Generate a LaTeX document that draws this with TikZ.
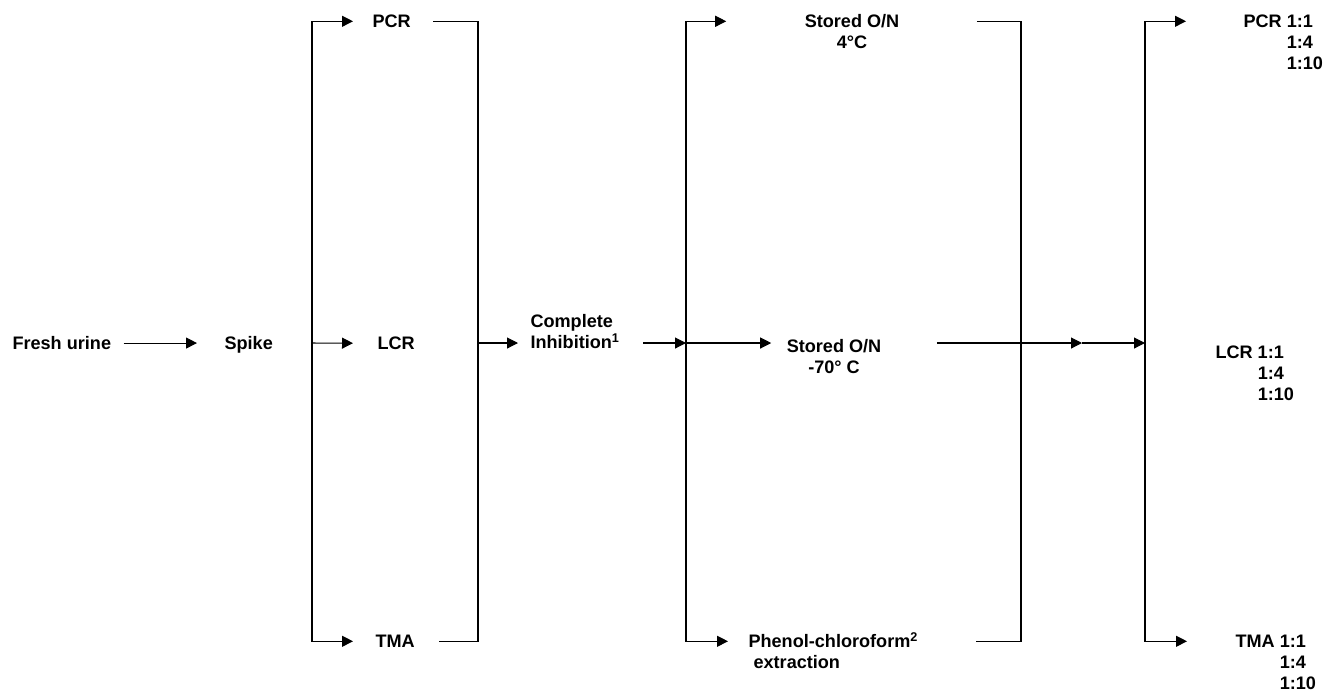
\documentclass[tikz,border=0pt]{standalone}
\usepackage{fontspec}
\setmainfont{Liberation Sans}
\usetikzlibrary{arrows.meta}
\newcommand{\dilutions}[1]{\begin{tabular}[t]{@{}l@{\ }l@{}}#1&1:1\\&1:4\\&1:10\end{tabular}}

\begin{document}
\begin{tikzpicture}[x=0.02cm, y=-0.02cm, line width=0.6pt,
    lbl/.style={inner sep=0pt, font=\fontsize{10.3}{12}\selectfont\bfseries},
    arr/.style={-{Triangle[length=0.22cm, width=0.22cm]}}]
  \useasboundingbox (0,0) rectangle (1344,691);
  % Labels first half
  \node[lbl, anchor=base west] (fresh) at (12,349.5) {Fresh urine};
  \node[lbl, anchor=base west] (spike) at (224,349.5) {Spike};
  \node[lbl, anchor=base west] (pcr) at (372,27.5) {PCR};
  \node[lbl, anchor=base west] (lcr) at (377,349.5) {LCR};
  \node[lbl, anchor=base west] (tma) at (375,647.5) {TMA};
  \node[lbl, anchor=base west, align=left] (inhib) at (530,348.5) {Complete\\Inhibition\textsuperscript{1}};
  % Labels second half
  \node[lbl, anchor=base, align=center] (on4) at (852,48.5) {Stored O/N\\4°C};
  \node[lbl, anchor=base, align=center] (on70) at (834,373.5) {Stored O/N\\-70° C};
  \node[lbl, anchor=base west, align=left] (phenol) at (748,668.5) {Phenol-chloroform\textsuperscript{2}\\\ extraction};
  \node[lbl, anchor=base west] (pcr2) at (1243,27.5) {\dilutions{PCR}};
  \node[lbl, anchor=base west] (lcr2) at (1215,358.5) {\dilutions{LCR}};
  \node[lbl, anchor=base west] (tma2) at (1235,647.5) {\dilutions{TMA\ }};
  % Bus points
  \coordinate (b1) at (312,343);
  \coordinate (j1) at (478,343);
  \coordinate (b2) at (686,343);
  \coordinate (j2) at (1021,343);
  \coordinate (m2) at (1082,343);
  \coordinate (b3) at (1145,343);
  % Spike into the three assays
  \draw[arr, shorten <=0.24cm, shorten >=0.54cm] (fresh.east) -- (fresh.east -| spike.west);
  \draw[arr, shorten >=0.38cm] (b1) |- (pcr.west);
  \draw[arr, shorten >=0.48cm] (b1) -- (lcr.west);
  \draw[arr, shorten >=0.44cm] (b1) |- (tma.west);
  \draw[shorten <=0.44cm, shorten >=0.48cm] (pcr.east) -| (j1) |- (tma.east);
  \draw[arr, shorten >=0.24cm] (j1) -- (j1 -| inhib.west);
  % Storage conditions
  \draw[arr, shorten <=0.46cm] (b2 -| inhib.east) -- (b2);
  \draw[arr, shorten >=1.56cm] (b2) |- (pcr -| on4.west);
  \draw[arr, shorten >=0.3cm] (b2) -- (b2 -| on70.west);
  \draw[arr, shorten >=0.4cm] (b2) |- (tma -| phenol.west);
  \draw[shorten <=1.54cm, shorten >=1.14cm] (pcr -| on4.east) -| (j2) |- (tma -| phenol.east);
  \draw[arr, shorten <=1.1cm] (b2 -| on70.east) -- (m2);
  \draw[arr] (m2) -- (b3);
  % Dilution series
  \draw[arr, shorten >=1.14cm] (b3) |- (pcr -| pcr2.west);
  \draw[arr, shorten >=0.96cm] (b3) |- (tma -| tma2.west);
\end{tikzpicture}
\end{document}
